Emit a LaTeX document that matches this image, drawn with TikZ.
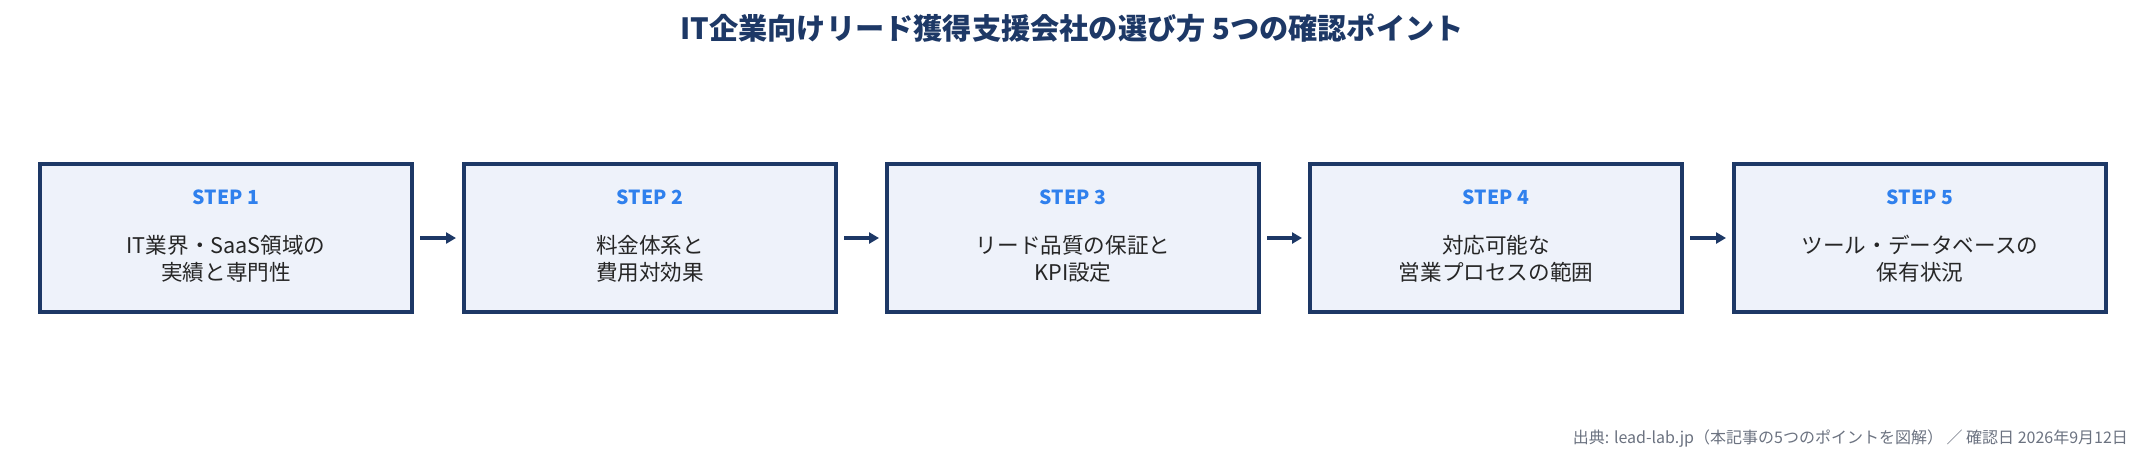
\documentclass[tikz,border=0pt]{standalone}
\usepackage{fontspec}
\setmainfont{Noto Sans CJK JP}
\usetikzlibrary{arrows.meta}
\definecolor{navy}{HTML}{1D3866}
\definecolor{boxfill}{HTML}{EEF2FA}
\definecolor{stepblue}{HTML}{2F80ED}
\definecolor{foot}{HTML}{6B7280}
\begin{document}
\begin{tikzpicture}[x=0.5pt,y=-0.5pt,
  box/.style={draw=navy,line width=2pt,fill=boxfill,minimum width=186pt,minimum height=74pt,inner sep=0pt},
  steplbl/.style={text=stepblue,font=\fontsize{9.7}{12}\selectfont\bfseries},
  body/.style={text=black!85,font=\fontsize{10.8}{13.5}\selectfont,align=center},
  arr/.style={-{Triangle[length=5pt,width=5.5pt]},line width=2pt,draw=navy,shorten <=3pt,shorten >=3pt}]
\useasboundingbox (0,0) rectangle (2145,462);
\node[text=navy,font=\fontsize{14.6}{17}\selectfont\bfseries] (title) at (1072,28) {IT企業向けリード獲得支援会社の選び方 5つの確認ポイント};
\foreach \i/\x/\t in {1/226/{IT業界・SaaS領域の\\実績と専門性},2/650/{料金体系と\\費用対効果},3/1073/{リード品質の保証と\\KPI設定},4/1496/{対応可能な\\営業プロセスの範囲},5/1920/{ツール・データベースの\\保有状況}}{
  \node[box] (b\i) at (\x,238) {};
  \node[steplbl] (s\i) at (\x,197) {STEP \i};
  \node[body] (t\i) at (\x,259) {\t};
}
\foreach \a/\b in {1/2,2/3,3/4,4/5}{\draw[arr] (b\a.east) -- (b\b.west);}
\node[anchor=east,text=foot,font=\fontsize{8}{10}\selectfont] (src) at (2135,439) {出典: lead-lab.jp（本記事の5つのポイントを図解） ／ 確認日 2026年9月12日};
\end{tikzpicture}
\end{document}
